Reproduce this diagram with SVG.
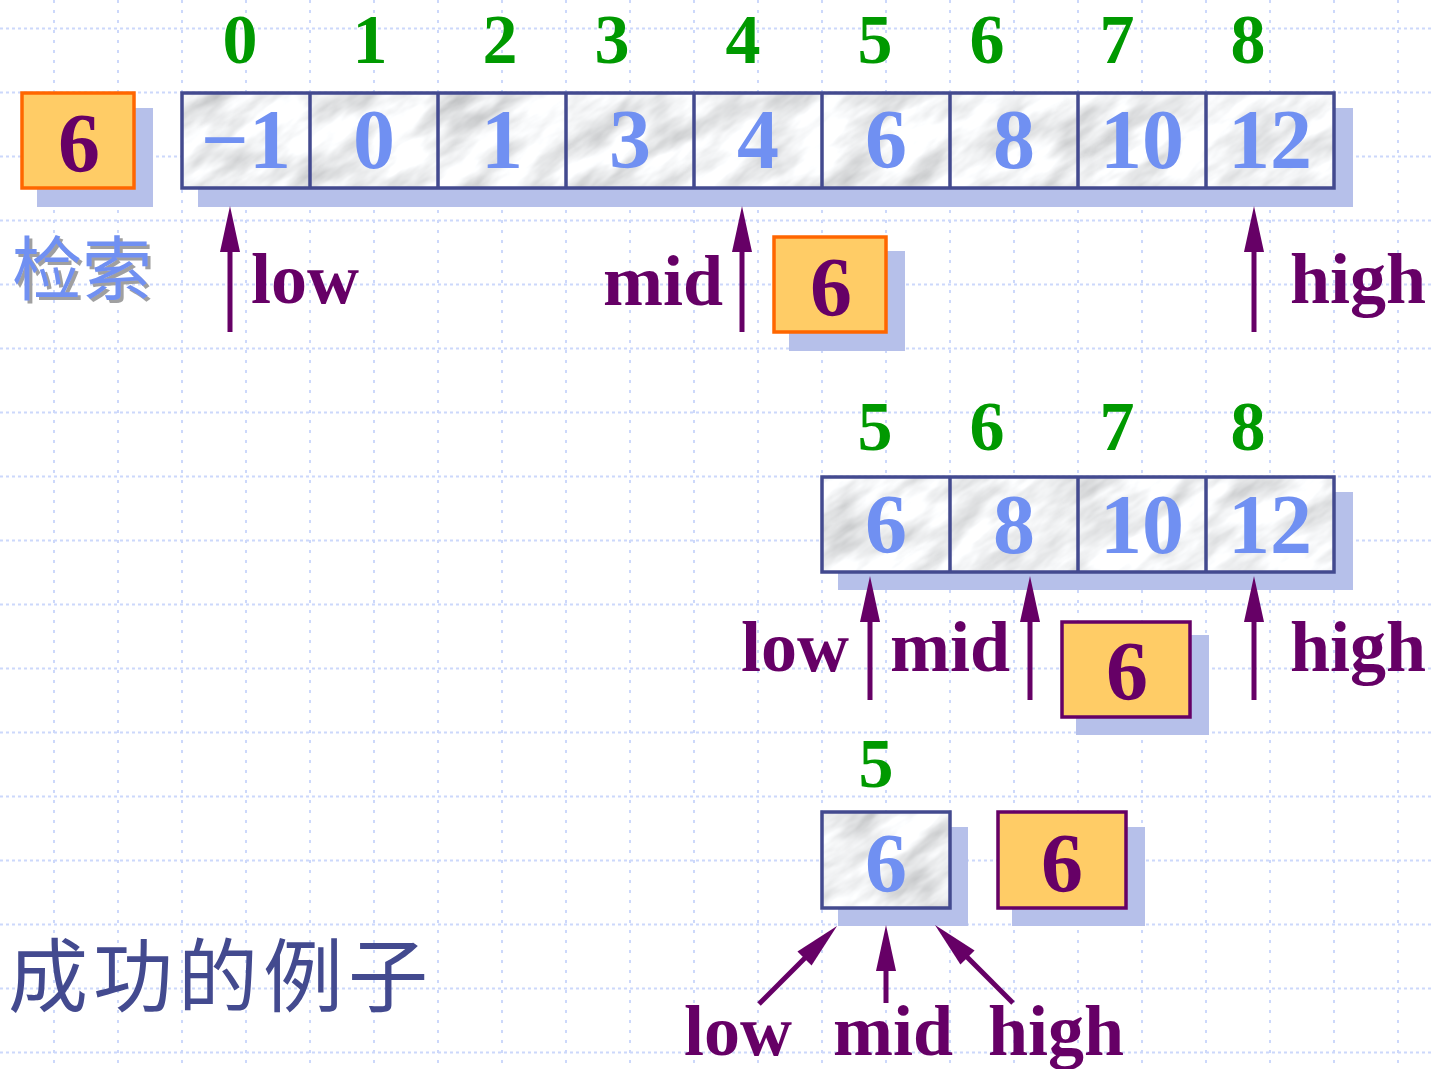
<svg xmlns="http://www.w3.org/2000/svg" width="1433" height="1069" viewBox="0 0 1433 1069">
<style>
.gh{stroke:#ccd8fb;stroke-width:2;stroke-dasharray:3 3}
.gv{stroke:#ccd8fb;stroke-width:2;stroke-dasharray:3 7}
.shadow{fill:#b6c0ea}
.cell{fill:none;stroke:#434a8f;stroke-width:3.5}
.key{fill:#ffcc66;stroke-width:3.5}
.idx{font-family:"Liberation Serif","Times New Roman",serif;font-weight:bold;font-size:70px;fill:#009900;text-anchor:middle}
.val{font-family:"Liberation Serif","Times New Roman",serif;font-weight:bold;font-size:84px;fill:#7090f2;text-anchor:middle}
.kv{font-family:"Liberation Serif","Times New Roman",serif;font-weight:bold;font-size:84px;fill:#660066;text-anchor:middle}
.lbl{font-family:"Liberation Serif","Times New Roman",serif;font-weight:bold;font-size:72px;fill:#660066}
.arr{stroke:#660066;stroke-width:5;fill:none;marker-end:url(#ah)}
</style>
<defs>
<marker id="ah" markerUnits="userSpaceOnUse" markerWidth="48" markerHeight="22" viewBox="-1 -11 48 22" refX="0" refY="0" orient="auto">
<path d="M-1,-10 L45,0 L-1,10 z" fill="#660066"/>
</marker>
<filter id="marble" x="0" y="0" width="1" height="1" filterUnits="objectBoundingBox">
<feTurbulence type="fractalNoise" baseFrequency="0.014 0.04" numOctaves="4" seed="7"/>
<feColorMatrix type="matrix" values="-0.9 0 0 0 1.33  -0.9 0 0 0 1.34  -0.9 0 0 0 1.35  0 0 0 0 1"/>
</filter>
<filter id="cjkShadow" x="-10%" y="-10%" width="130%" height="130%">
<feOffset in="SourceAlpha" dx="3" dy="3" result="off"/>
<feFlood flood-color="#a0a0a0"/>
<feComposite in2="off" operator="in" result="sh"/>
<feMerge><feMergeNode in="sh"/><feMergeNode in="SourceGraphic"/></feMerge>
</filter>
<clipPath id="arrClip">
<rect x="182" y="93" width="1152" height="96"/>
<rect x="822" y="477" width="512" height="96"/>
<rect x="822" y="812" width="128" height="97"/>
</clipPath>
</defs>
<rect width="1433" height="1069" fill="#ffffff"/>
<g id="grid">
<path class="gh" d="M0,28.5H1433M0,92.5H1433M0,156.5H1433M0,220.5H1433M0,284.5H1433M0,348.5H1433M0,412.5H1433M0,476.5H1433M0,540.5H1433M0,604.5H1433M0,668.5H1433M0,732.5H1433M0,796.5H1433M0,860.5H1433M0,924.5H1433M0,988.5H1433M0,1052.5H1433"/>
<path class="gv" d="M54,0V1069M118,0V1069M182,0V1069M246,0V1069M310,0V1069M374,0V1069M438,0V1069M502,0V1069M566,0V1069M630,0V1069M694,0V1069M758,0V1069M822,0V1069M886,0V1069M950,0V1069M1014,0V1069M1078,0V1069M1142,0V1069M1206,0V1069M1270,0V1069M1334,0V1069M1398,0V1069"/>
</g>
<g id="shadows">
<rect class="shadow" x="37" y="108" width="116" height="99"/>
<rect class="shadow" x="198" y="108" width="1155" height="99"/>
<rect class="shadow" x="789" y="251" width="116" height="100"/>
<rect class="shadow" x="838" y="492" width="515" height="98"/>
<rect class="shadow" x="1076" y="635" width="133" height="100"/>
<rect class="shadow" x="838" y="827" width="130" height="99"/>
<rect class="shadow" x="1012" y="827" width="133" height="99"/>
</g>
<g id="marble-fill" clip-path="url(#arrClip)">
<rect x="-200" y="-300" width="1900" height="1700" fill="#ddd" filter="url(#marble)" transform="rotate(-35 716 534)"/>
</g>
<g id="key-top">
<rect class="key" x="22" y="93" width="112" height="95" stroke="#ff6600"/>
<text class="kv" x="79" y="172">6</text>
</g>
<g id="array-1">
<rect class="cell" x="182" y="93" width="1152" height="95"/>
<path class="cell" d="M310,93V188M438,93V188M566,93V188M694,93V188M822,93V188M950,93V188M1078,93V188M1206,93V188"/>
<text class="val" x="246" y="168">−1</text>
<text class="val" x="374" y="168">0</text>
<text class="val" x="502" y="168">1</text>
<text class="val" x="630" y="168">3</text>
<text class="val" x="758" y="168">4</text>
<text class="val" x="886" y="168">6</text>
<text class="val" x="1014" y="168">8</text>
<text class="val" x="1142" y="168">10</text>
<text class="val" x="1270" y="168">12</text>
</g>
<g id="index-1">
<text class="idx" x="240" y="63">0</text>
<text class="idx" x="370" y="63">1</text>
<text class="idx" x="500" y="63">2</text>
<text class="idx" x="612" y="63">3</text>
<text class="idx" x="743" y="63">4</text>
<text class="idx" x="875" y="63">5</text>
<text class="idx" x="987" y="63">6</text>
<text class="idx" x="1117" y="63">7</text>
<text class="idx" x="1248" y="63">8</text>
</g>
<g id="key-2">
<rect class="key" x="774" y="237" width="112" height="95" stroke="#ff6600"/>
<text class="kv" x="831" y="316">6</text>
</g>
<g id="array-2">
<rect class="cell" x="822" y="477" width="512" height="95"/>
<path class="cell" d="M950,477V572M1078,477V572M1206,477V572"/>
<text class="val" x="886" y="553">6</text>
<text class="val" x="1014" y="553">8</text>
<text class="val" x="1142" y="553">10</text>
<text class="val" x="1270" y="553">12</text>
</g>
<g id="index-2">
<text class="idx" x="875" y="450">5</text>
<text class="idx" x="987" y="450">6</text>
<text class="idx" x="1117" y="450">7</text>
<text class="idx" x="1248" y="450">8</text>
</g>
<g id="key-3">
<rect class="key" x="1062" y="622" width="128" height="95" stroke="#660066"/>
<text class="kv" x="1127" y="700">6</text>
</g>
<g id="array-3">
<rect class="cell" x="822" y="812" width="128" height="96"/>
<text class="val" x="886" y="892">6</text>
</g>
<g id="index-3">
<text class="idx" x="876" y="787">5</text>
</g>
<g id="key-4">
<rect class="key" x="998" y="812" width="128" height="96" stroke="#660066"/>
<text class="kv" x="1062" y="892">6</text>
</g>
<g id="connectors">
<line class="arr" x1="230" y1="332" x2="230" y2="251"/>
<line class="arr" x1="742" y1="332" x2="742" y2="251"/>
<line class="arr" x1="1254" y1="332" x2="1254" y2="251"/>
<line class="arr" x1="870" y1="700" x2="870" y2="621"/>
<line class="arr" x1="1030" y1="700" x2="1030" y2="621"/>
<line class="arr" x1="1254" y1="700" x2="1254" y2="621"/>
<line class="arr" x1="759" y1="1004" x2="805.2" y2="957.8"/>
<line class="arr" x1="886" y1="1003" x2="886" y2="970"/>
<line class="arr" x1="1013" y1="1003" x2="966.8" y2="956.8"/>
</g>
<g id="labels">
<text class="lbl" x="251" y="303">low</text>
<text class="lbl" x="603" y="305">mid</text>
<text class="lbl" x="1290" y="303">high</text>
<text class="lbl" x="741" y="671">low</text>
<text class="lbl" x="890" y="671">mid</text>
<text class="lbl" x="1290" y="671">high</text>
<text class="lbl" x="684" y="1055">low</text>
<text class="lbl" x="833" y="1055">mid</text>
<text class="lbl" x="988" y="1055">high</text>
</g>
<g id="title-search">
<text x="12" y="295" font-family="'Noto Sans CJK SC',sans-serif" font-size="70" fill="#7090f2" filter="url(#cjkShadow)">检索</text>
</g>
<g id="title-success">
<text x="8" y="1005" font-family="'Noto Sans CJK SC',sans-serif" font-size="80" letter-spacing="5" fill="#434a8f">成功的例子</text>
</g>
</svg>
